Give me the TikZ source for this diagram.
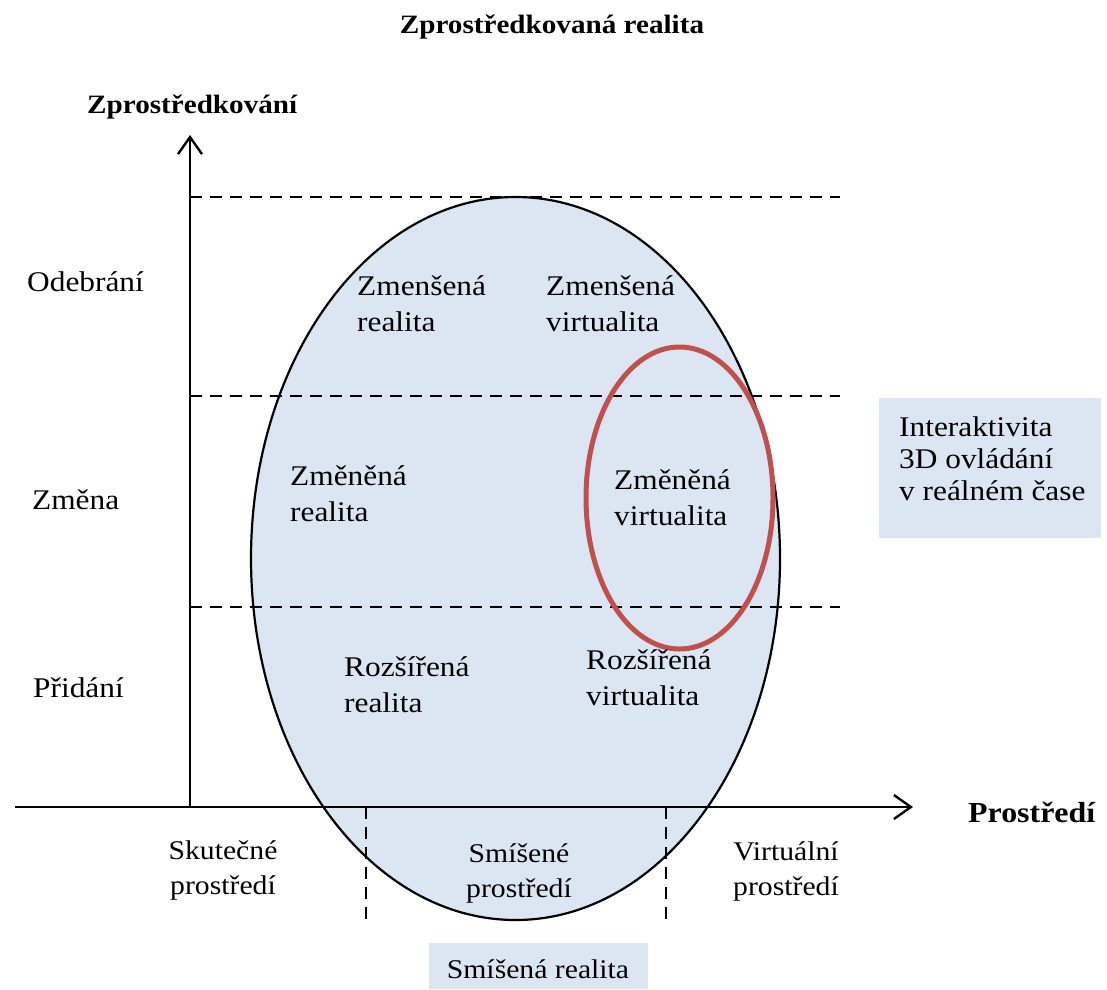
\documentclass[tikz,border=0pt]{standalone}
\usepackage{fontspec}
\setmainfont{Liberation Serif}[FakeStretch=1.1]
\usetikzlibrary{arrows.meta}
\definecolor{fillblue}{HTML}{DCE6F2}
\definecolor{redline}{HTML}{C0504D}
\newcommand\LtwoL[3]{\vtop{\baselineskip=#1\lineskiplimit=-100pt\relax\halign{##\hfil\cr #2\cr #3\cr}}}
\newcommand\CtwoL[3]{\vtop{\baselineskip=#1\lineskiplimit=-100pt\relax\halign{\hfil##\hfil\cr #2\cr #3\cr}}}
\newcommand\LthreeL[4]{\vtop{\baselineskip=#1\lineskiplimit=-100pt\relax\halign{##\hfil\cr #2\cr #3\cr #4\cr}}}
\begin{document}
\begin{tikzpicture}[x=1pt,y=-1pt,
  lbl/.style={inner sep=0pt, anchor=base west, font=\fontsize{28.5}{34}\selectfont},
  lblc/.style={inner sep=0pt, anchor=base, font=\fontsize{27}{33}\selectfont},
  ttl/.style={inner sep=0pt, font=\fontsize{26.5}{32}\selectfont\bfseries},
  dashline/.style={line width=2.2pt, dash pattern=on 12pt off 8pt},
  axisline/.style={line width=2.4pt, -{Straight Barb[length=17pt,width=24pt,line width=2.4pt]}},
  bigell/.style={fill=fillblue, draw=black, line width=2.2pt},
  redell/.style={draw=redline, line width=5pt},
  boxfill/.style={fill=fillblue}
]
\useasboundingbox (0,0) rectangle (1107,989);

% big ellipse
\draw[bigell] (515.5,558.5) ellipse [x radius=264.5, y radius=361.5];

% coordinates
\coordinate (O) at (190,807);
\coordinate (xl) at (15,807);
\coordinate (xr) at (913,807);
\coordinate (yt) at (190,135);
\coordinate (d1a) at (190,197); \coordinate (d1b) at (840,197);
\coordinate (d2a) at (190,396); \coordinate (d2b) at (840,396);
\coordinate (d3a) at (190,607); \coordinate (d3b) at (840,607);
\coordinate (v1a) at (366,807); \coordinate (v1b) at (366,920);
\coordinate (v2a) at (666,807); \coordinate (v2b) at (666,920);

% dashed lines
\draw[dashline] (d1a) -- (d1b);
\draw[dashline] (d2a) -- (d2b);
\draw[dashline] (d3a) -- (d3b);
\draw[dashline] (v1a) -- (v1b);
\draw[dashline] (v2a) -- (v2b);

% red ellipse
\draw[redell] (679.5,498) ellipse [x radius=93.5, y radius=151];

% axes
\draw[axisline] (xl) -- (xr);
\draw[axisline] (O) -- (yt);

% boxes
\fill[boxfill] (879,398) rectangle (1101,538);
\fill[boxfill] (429,943) rectangle (648,989);

% titles
\node[ttl, anchor=base] (title) at (552,33) {Zprostředkovaná realita};
\node[ttl, anchor=base west] (ylab) at (87,113) {Zprostředkování};
\node[ttl, anchor=base west, font=\fontsize{29}{34}\selectfont\bfseries] (xlab) at (968,822) {Prostředí};

% row labels
\node[lbl] (odeb) at (27,291) {Odebrání};
\node[lbl] (zmena) at (32,509) {Změna};
\node[lbl] (prid) at (33,697) {Přidání};

% inner labels
\node[lbl] (zr) at (357,295) {\LtwoL{36pt}{Zmenšená}{realita}};
\node[lbl] (zv) at (546,295) {\LtwoL{36pt}{Zmenšená}{virtualita}};
\node[lbl] (mr) at (290,485) {\LtwoL{36pt}{Změněná}{realita}};
\node[lbl] (mv) at (614,489) {\LtwoL{36pt}{Změněná}{virtualita}};
\node[lbl] (rr) at (344,676) {\LtwoL{36pt}{Rozšířená}{realita}};
\node[lbl] (rv) at (586,669) {\LtwoL{36pt}{Rozšířená}{virtualita}};

% interactivity
\node[lbl] (inter) at (899,436) {\LthreeL{32pt}{Interaktivita}{3D ovládání}{v reálném čase}};

% bottom labels
\node[lblc] (skut) at (223,859) {\CtwoL{35pt}{Skutečné}{prostředí}};
\node[lblc] (smis) at (519,862) {\CtwoL{35pt}{Smíšené}{prostředí}};
\node[lblc] (virt) at (786,860) {\CtwoL{35pt}{Virtuální}{prostředí}};
\node[lblc] (smr) at (538,978) {Smíšená realita};
\end{tikzpicture}
\end{document}
